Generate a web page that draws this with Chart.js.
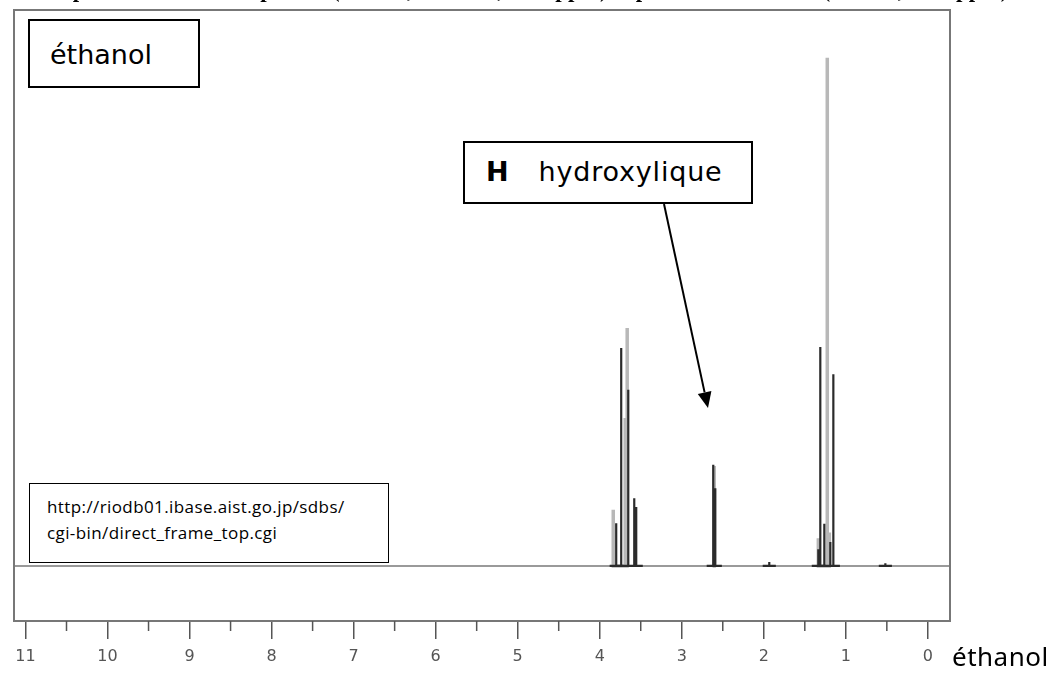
<!DOCTYPE html>
<html lang="fr">
<head>
<meta charset="utf-8">
<title>éthanol</title>
<script src="https://cdn.jsdelivr.net/npm/chart.js@4.4.1/dist/chart.umd.min.js"></script>
<style>
  body { margin: 0; background: #fff; }
  #zone { position: relative; width: 1056px; height: 675px; overflow: hidden; }
  #spectre { position: absolute; left: 0; top: 0; }
  .titre { position: absolute; left: 60px; top: -22px; white-space: nowrap;
    font: bold 23px "Liberation Serif", serif; line-height: 24px; color: #000; }
  .boite { position: absolute; background: #fff; border: 2px solid #000; box-sizing: border-box; }
  .comic { font-family: "DejaVu Sans", sans-serif; color: #000; white-space: nowrap; }
  #fleche { position: absolute; left: 0; top: 0; }
</style>
</head>
<body>
<div id="zone">
  <canvas id="spectre" width="1056" height="675"></canvas>
  <div class="titre">Spectre de RMN du proton (CDCl3, 90 MHz, δ en ppm) : spectre de l'éthanol (CDCl3, δ en ppm)</div>

  <div class="boite comic" style="left:28px;top:19px;width:172px;height:69px;font-size:27px;padding:18px 0 0 20px;">éthanol</div>

  <div class="boite comic" style="left:463px;top:141px;width:290px;height:63px;font-size:27px;padding:13px 0 0 21px;">
    <b>H</b><span style="margin-left:30px;letter-spacing:0.8px;">hydroxylique</span>
  </div>

  <div class="boite" style="left:29px;top:483px;width:360px;height:80px;border-width:1.5px;
       font:17px 'Open Sans', sans-serif;letter-spacing:0.4px;line-height:26px;padding:10px 0 0 17px;color:#000;white-space:nowrap;">
    http://riodb01.ibase.aist.go.jp/sdbs/<br>cgi-bin/direct_frame_top.cgi
  </div>

  <svg id="fleche" width="1056" height="675">
    <line x1="664" y1="204" x2="704.6" y2="392.4" stroke="#000" stroke-width="2"/>
    <polygon points="708,408 711.4,390.9 697.8,393.9" fill="#000"/>
  </svg>

  <div style="position:absolute;left:952px;top:638px;font:26px 'Noto Sans', sans-serif;letter-spacing:0.5px;color:#000;">éthanol</div>
</div>

<script>
const graduations = [11, 10, 9, 8, 7, 6, 5, 4, 3, 2, 1, 0];
const demiGraduations = [10.5, 9.5, 8.5, 7.5, 6.5, 5.5, 4.5, 3.5, 2.5, 1.5, 0.5];

// traits foncés
const picsNoirsPpm = [3.799, 3.738, 3.652, 3.579, 3.555, 2.616, 2.591, 1.933, 1.335, 1.311, 1.262, 1.189, 1.152, 0.518];
const picsNoirsHauteur = [7.7, 39.2, 31.7, 12.2, 10.6, 18.2, 14.0, 0.7, 3.0, 39.4, 7.6, 4.3, 34.5, 0.5];

// traits gris (tracé clair superposé)
const picsGrisPpm = [3.835, 3.689, 3.665, 2.604, 1.335, 1.226, 1.201];
const picsGrisHauteur = [10.1, 26.6, 42.8, 18.0, 5.0, 91.4, 6.0];

// ligne de base
const ligneBasePpm = [11.14, -0.27];
const ligneBaseHauteur = [0, 0];

// ── Transforme une liste de pics en "bâtons" ──
function batons(ppm, hauteur, marge) {
  const pts = [];
  let precedent = null;
  ppm.forEach((p, i) => {
    if (precedent !== null && precedent - p > 0.3) {
      pts.push({ x: precedent - marge, y: 0 });
      pts.push({ x: (precedent + p) / 2, y: null });
      pts.push({ x: p + marge, y: 0 });
    } else if (precedent === null) {
      pts.push({ x: p + marge, y: 0 });
    }
    pts.push({ x: p, y: 0 }, { x: p, y: hauteur[i] }, { x: p, y: 0 });
    precedent = p;
  });
  if (precedent !== null) pts.push({ x: precedent - marge, y: 0 });
  return pts;
}

// cadre + petites graduations
const cadrePlugin = {
  id: "cadre",
  afterDraw(chart) {
    const { ctx, chartArea: a, scales } = chart;
    const x = scales.x;
    ctx.save();
    ctx.strokeStyle = "#777";
    ctx.lineWidth = 2;
    ctx.strokeRect(a.left, a.top, a.right - a.left, a.bottom - a.top);
    ctx.strokeStyle = "#555";
    ctx.lineWidth = 1.5;
    demiGraduations.forEach((v) => {
      const px = x.getPixelForValue(v);
      ctx.beginPath();
      ctx.moveTo(px, a.bottom);
      ctx.lineTo(px, a.bottom + 10);
      ctx.stroke();
    });
    ctx.restore();
  },
};

new Chart(document.getElementById("spectre").getContext("2d"), {
  type: "line",
  data: {
    datasets: [
      {
        label: "noir",
        data: batons(picsNoirsPpm, picsNoirsHauteur, 0.08),
        borderColor: "#2b2b2b",
        borderWidth: 2.2,
        borderJoinStyle: "bevel",
        pointRadius: 0,
        tension: 0,
        order: 0,
      },
      {
        label: "gris",
        data: batons(picsGrisPpm, picsGrisHauteur, 0.02),
        borderColor: "#b8b8b8",
        borderWidth: 3.5,
        borderJoinStyle: "bevel",
        pointRadius: 0,
        tension: 0,
        order: 1,
      },
      {
        label: "base",
        data: ligneBasePpm.map((p, i) => ({ x: p, y: ligneBaseHauteur[i] })),
        borderColor: "#9a9a9a",
        borderWidth: 2,
        pointRadius: 0,
        order: 2,
      },
    ],
  },
  options: {
    responsive: false,
    animation: false,
    devicePixelRatio: 1,
    layout: { padding: { left: 14, right: 106, top: 10, bottom: 0 } },
    plugins: { legend: { display: false }, tooltip: { enabled: false } },
    scales: {
      x: {
        type: "linear",
        reverse: true,
        min: -0.27,
        max: 11.14,
        afterFit: (s) => { s.height = 54; },
        afterBuildTicks: (s) => { s.ticks = graduations.map((v) => ({ value: v })); },
        border: { display: false },
        grid: { drawOnChartArea: false, tickLength: 18, color: "#555", lineWidth: 1.5 },
        ticks: {
          padding: 8,
          maxRotation: 0,
          autoSkip: false,
          color: "#555",
          font: { family: "'DejaVu Sans', sans-serif", size: 16 },
          callback: (v) => String(v),
        },
      },
      y: { display: false, min: -9.9, max: 100 },
    },
  },
  plugins: [cadrePlugin],
});
</script>
</body>
</html>
